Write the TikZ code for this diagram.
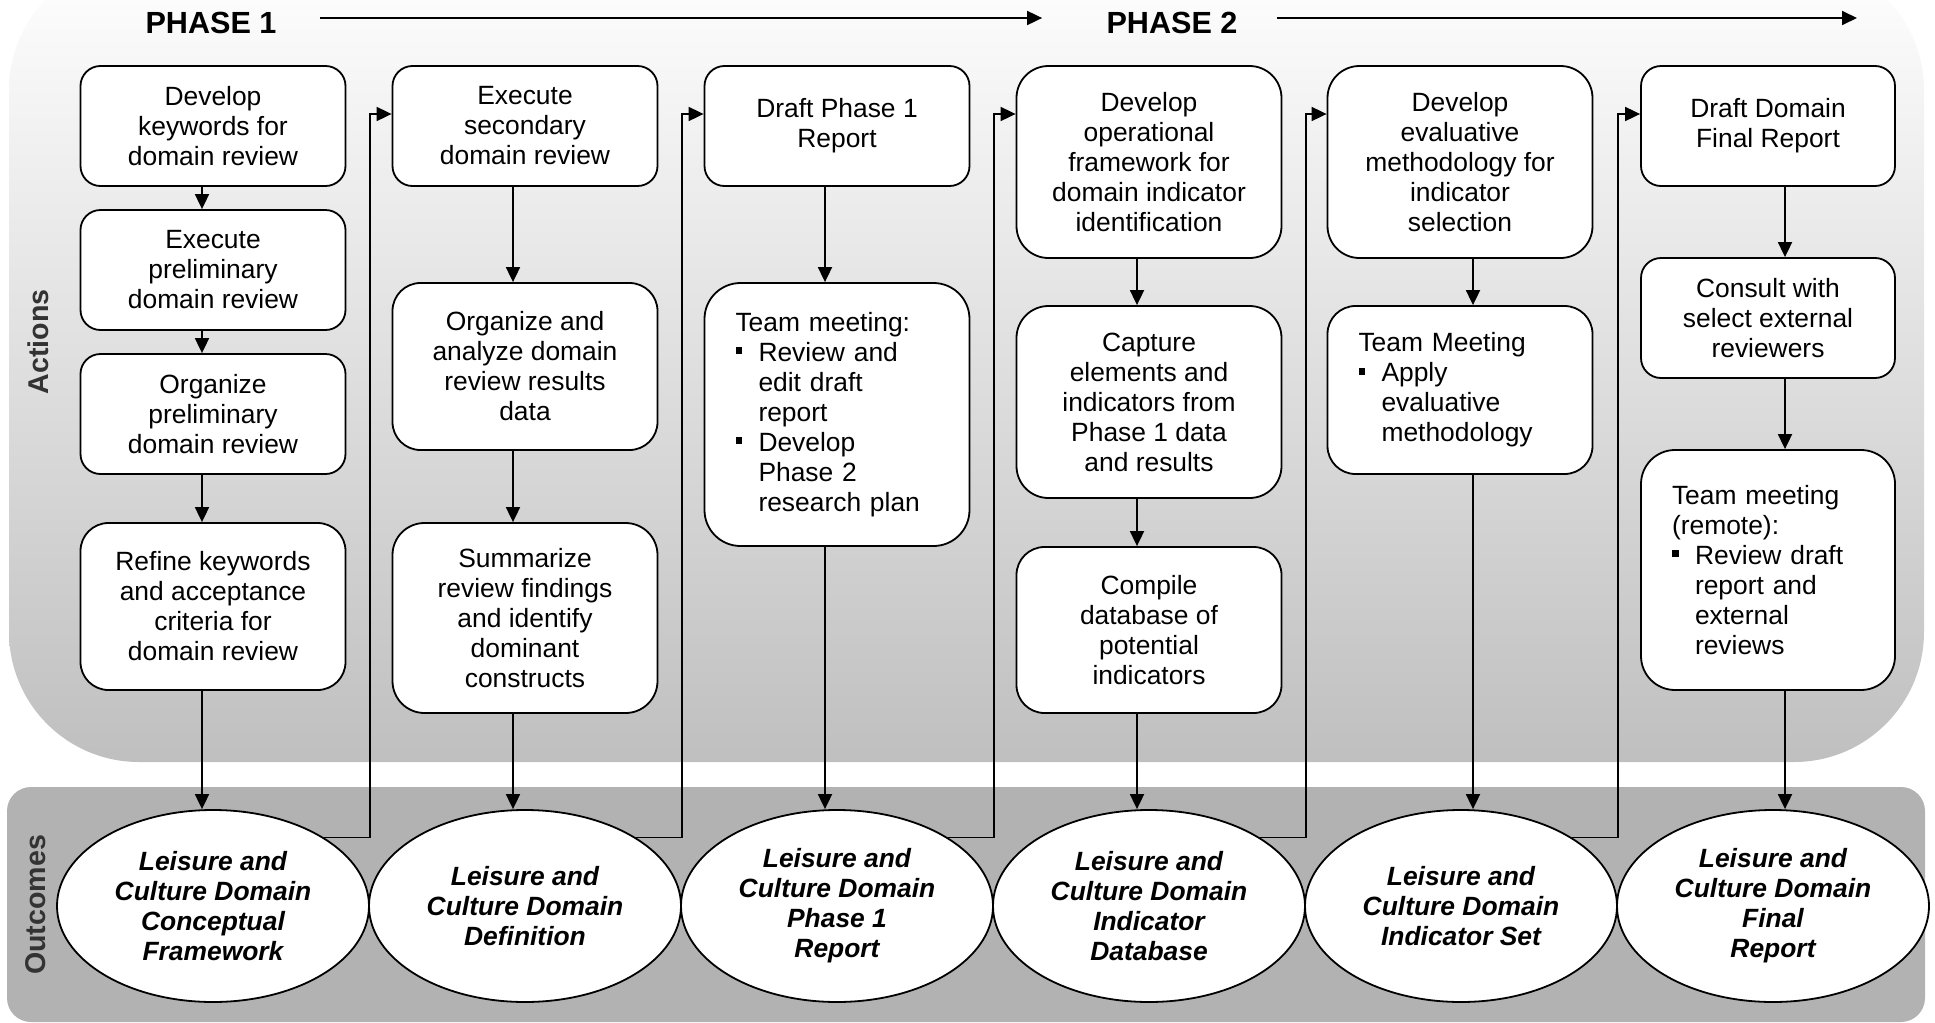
\documentclass[tikz,border=0pt]{standalone}
\usepackage{fontspec}
\setmainfont{Liberation Sans}
\usetikzlibrary{arrows.meta,shapes.geometric}
\newcommand{\actfont}{\fontsize{13.2pt}{15pt}\selectfont}
\newcommand{\outfont}{\fontsize{13.2pt}{15pt}\selectfont\bfseries\itshape}
\newcommand{\sqb}{\makebox[11.5pt][l]{\rule[3.6pt]{3.4pt}{3.4pt}}}
\newcommand{\hind}{\hspace*{11.5pt}}
\tikzset{act/.style={draw,line width=0.9pt,fill=white,rounded corners=#1,minimum width=132.5pt,minimum height=60pt,align=center,inner sep=2pt,font=\actfont},
  act/.default=10pt,
  actl/.style={act=#1,minimum width=0pt,align=left,text width=101.5pt,inner xsep=15.5pt},
  actl/.default=17pt,
  outcome/.style={ellipse,draw,line width=0.9pt,fill=white,minimum width=156pt,minimum height=96pt,inner sep=0pt,align=center,font=\outfont},
  phase/.style={inner sep=0pt,font=\fontsize{15.3pt}{18pt}\selectfont\bfseries},
  side/.style={rotate=90,inner sep=0pt,text=black!80,font=\fontsize{14.3pt}{17pt}\selectfont\bfseries},
  arr/.style={-{Triangle[length=7.5pt,width=7pt]},line width=0.9pt}}
\begin{document}
\begin{tikzpicture}[x=0.5pt,y=-0.5pt]
\useasboundingbox (0,0) rectangle (1935,1023);
% bands
\shade[top color=white,bottom color=gray!50,rounded corners=65pt] (9,-40) rectangle (1924,762);
\fill[gray!60,rounded corners=12pt] (7,787) rectangle (1925,1022);
\node[side] (lact) at (38,342) {Actions};
\node[side] (lout) at (36,905) {Outcomes};
% phases
\node[phase] (ph1) at (211,22.5) {PHASE 1};
\node[phase] (ph2) at (1172,22.5) {PHASE 2};
\coordinate (p2tip) at (1857,18);
\coordinate (lane) at (0,114);
\draw[arr] ([xshift=21.5pt,yshift=2.25pt]ph1.east) -- ([xshift=-32pt,yshift=2.25pt]ph2.west);
\draw[arr] ([xshift=19.5pt,yshift=2.25pt]ph2.east) -- (p2tip);
% actions
\node[act] (b11) at (213,126) {Develop\\keywords for\\domain review};
\node[act] (b12) at (213,270) {Execute\\preliminary\\domain review};
\node[act] (b13) at (213,414) {Organize\\preliminary\\domain review};
\node[act=14pt,minimum height=83.5pt] (b14) at (213,606.5) {Refine keywords\\and acceptance\\criteria for\\domain review};
\node[act] (b21) at (525,126) {Execute\\secondary\\domain review};
\node[act=14pt,minimum height=83.5pt] (b22) at (525,366.5) {Organize and\\analyze domain\\review results\\data};
\node[act=16pt,minimum height=95pt] (b23) at (525,618) {Summarize\\review findings\\and identify\\dominant\\constructs};
\node[act] (b31) at (837,126) {Draft Phase 1\\Report};
\node[actl=18pt,minimum height=131.5pt] (b32) at (837,414.5) {Team meeting:\\\sqb Review and\\\hind edit draft\\\hind report\\\sqb Develop\\\hind Phase 2\\\hind research plan};
\node[act=16pt,minimum height=96pt] (b41) at (1149,162) {Develop\\operational\\framework for\\domain indicator\\identification};
\node[act=16pt,minimum height=96pt] (b42) at (1149,402) {Capture\\elements and\\indicators from\\Phase 1 data\\and results};
\node[act=14pt,minimum height=83pt] (b43) at (1149,630) {Compile\\database of\\potential\\indicators};
\node[act=16pt,minimum height=96pt] (b51) at (1460,162) {Develop\\evaluative\\methodology for\\indicator\\selection};
\node[actl=14pt,minimum height=84pt] (b52) at (1460,390) {Team Meeting\\\sqb Apply\\\hind evaluative\\\hind methodology};
\node[act,minimum width=127pt] (b61) at (1768,126) {Draft Domain\\Final Report};
\node[act,minimum width=127pt] (b62) at (1768,318) {Consult with\\select external\\reviewers};
\node[actl=17pt,text width=96pt,minimum height=120pt] (b63) at (1768,570) {Team meeting\\(remote):\\\sqb Review draft\\\hind report and\\\hind external\\\hind reviews};
% outcomes
\foreach \i/\t in {1/{Leisure and\\Culture Domain\\Conceptual\\Framework},
  2/{Leisure and\\Culture Domain\\Definition},
  3/{Leisure and\\Culture Domain\\Phase 1\\Report},
  4/{Leisure and\\Culture Domain\\Indicator\\Database},
  5/{Leisure and\\Culture Domain\\Indicator Set},
  6/{Leisure and\\Culture Domain\\Final\\Report}}
  \node[outcome] (e\i) at ({213+312*(\i-1)},906) {\t};
% flow
\foreach \a/\b/\s in {b11/b12/-5.5pt,b12/b13/-5.5pt,b13/b14/-5.5pt,b14/e1/-5.5pt,
  b21/b22/-6pt,b22/b23/-6pt,b23/e2/-6pt,b31/b32/-6pt,b32/e3/-6pt,
  b41/b42/-6pt,b42/b43/-6pt,b43/e4/-6pt,b51/b52/6.5pt,b52/e5/6.5pt,
  b61/b62/8.5pt,b62/b63/8.5pt,b63/e6/8.5pt}
  \draw[arr] ([xshift=\s]\a.south) -- ([xshift=\s]\a.south |- \b.north);
\foreach \a/\b in {1/2,2/3,3/4,4/5,5/6}
  \draw[arr] (e\a.north east) -| (e\a.east |- lane) -- (b\b1.west |- lane);
\end{tikzpicture}
\end{document}
